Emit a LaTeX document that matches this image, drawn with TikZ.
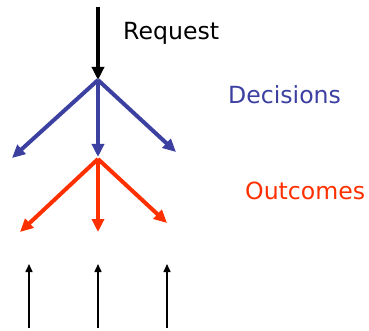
\documentclass[tikz,border=0pt]{standalone}
\usepackage{fontspec}
\setmainfont{DejaVu Sans}
\usetikzlibrary{arrows.meta}
\definecolor{decblue}{RGB}{60,64,160}
\definecolor{outred}{RGB}{255,48,0}
\tikzset{
  thick arrow/.style={line width=4pt, -{Triangle[length=13pt,width=12pt]}},
  thin arrow/.style={line width=1.5pt, -{Triangle[length=8pt,width=7pt]}},
  label text/.style={anchor=base west, inner sep=0pt, font=\fontsize{23.6}{28}\selectfont}
}
\begin{document}
\begin{tikzpicture}[x=1pt,y=-1pt]
\useasboundingbox (0,0) rectangle (369,331);
% request
\coordinate (req) at (98,7);
\coordinate (hub) at (98,80);
\draw[thick arrow, black] (req) -- (hub);
% decisions
\coordinate (d1) at (12,158);
\coordinate (d2) at (98,157);
\coordinate (d3) at (176,152);
\foreach \t in {d1,d2,d3}
  \draw[thick arrow, decblue] (hub) -- (\t);
% outcomes
\coordinate (ohub) at (98,159);
\coordinate (o1) at (20,232);
\coordinate (o2) at (98,232);
\coordinate (o3) at (167,223);
\foreach \t in {o1,o2,o3}
  \draw[thick arrow, outred] (ohub) -- (\t);
% feedback arrows
\coordinate (b1) at (29,328);
\coordinate (b2) at (98,328);
\coordinate (b3) at (167,328);
\coordinate (u1) at (29,264);
\coordinate (u2) at (98,264);
\coordinate (u3) at (167,264);
\draw[thin arrow] (b1) -- (u1);
\draw[thin arrow] (b2) -- (u2);
\draw[thin arrow] (b3) -- (u3);
% labels
\node[label text] (lreq) at (123,40) {Request};
\node[label text, text=decblue] (ldec) at (228,104) {Decisions};
\node[label text, text=outred] (lout) at (245,200) {Outcomes};
\end{tikzpicture}
\end{document}
